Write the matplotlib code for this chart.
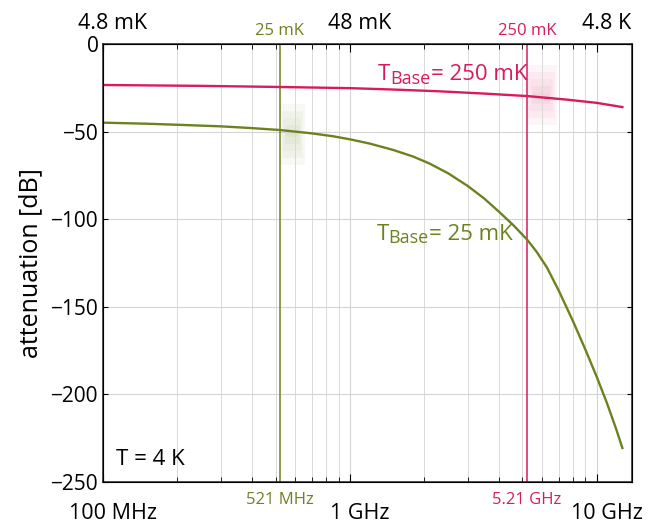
import numpy as np
import matplotlib
matplotlib.use("Agg")
import matplotlib.pyplot as plt
from matplotlib.ticker import NullFormatter
from matplotlib.transforms import ScaledTranslation

plt.rcParams['font.family'] = ['Open Sans', 'DejaVu Sans']

# data (frequency in GHz, attenuation in dB)
freq_25mK = [0.1, 0.15, 0.2, 0.3, 0.4, 0.521, 0.7, 0.85, 1.0, 1.2, 1.5, 1.8, 2.1, 2.5, 3.0,
             3.5, 4.0, 4.6, 5.21, 5.7, 6.28, 7.0, 8.0, 9.0, 10.0, 11.0, 12.0, 12.7]
att_25mK = [-44.9, -45.5, -46.1, -47.0, -48.0, -49.1, -51.0, -52.6, -54.4, -56.8, -60.5,
            -64.2, -68.2, -73.8, -81.0, -88.2, -95.5, -103.5, -111.5, -118.5, -127.5,
            -140.5, -158.0, -174.5, -190.0, -205.0, -220.0, -230.6]
freq_250mK = [0.1, 0.25, 0.5, 1.0, 1.5, 2.3, 3.5, 5.2, 7.5, 10.0, 12.7]
att_250mK = [-23.4, -23.9, -24.5, -25.2, -26.0, -27.0, -28.3, -29.7, -31.7, -33.6, -36.0]
f_25 = 0.521
f_250 = 5.21
bottom_ticks = [0.1, 1.0, 10.0]
bottom_labels = ['100 MHz', '1 GHz', '10 GHz']
top_labels = ['4.8 mK', '48 mK', '4.8 K']
yticks = [0, -50, -100, -150, -200, -250]

green = '#6c8220'
red = '#d81b5e'

fig = plt.figure(figsize=(6.48, 5.25), dpi=100)
ax = fig.add_axes([0.159, 0.0819, 0.8164, 0.8343])

ax.plot(np.array(freq_25mK) * 1e9, att_25mK, color=green, lw=1.7, zorder=3)
ax.plot(np.array(freq_250mK) * 1e9, att_250mK, color=red, lw=1.7, zorder=3)
ax.axvline(f_25 * 1e9, color=green, lw=1.1, zorder=2)
ax.axvline(f_250 * 1e9, color=red, lw=1.1, zorder=2)

# faint blurred patches next to the markers
for k in range(5):
    ax.fill_between([f_25 * 1e9 * (1.0 + 0.015 * k), f_25 * 1e9 * (1.26 - 0.02 * k)],
                    -69 + 4 * k, -34 - 4 * k, color=green, alpha=0.045, lw=0, zorder=1)
    ax.fill_between([f_250 * 1e9 * (1.0 + 0.015 * k), f_250 * 1e9 * (1.33 - 0.025 * k)],
                    -46 + 4 * k, -12 - 4 * k, color=red, alpha=0.045, lw=0, zorder=1)

ax.set_xscale('log')
ax.set_xlim(1e8, 1.39e10)
ax.set_ylim(-250, 0)
ax.set_yticks(yticks)
ax.set_yticklabels([str(v).replace('-', '\u2212') for v in yticks])
ax.set_xticks([t * 1e9 for t in bottom_ticks])
ax.set_xticklabels(bottom_labels)
ax.xaxis.set_minor_formatter(NullFormatter())
ax.tick_params(axis='x', which='major', labelsize=15.5, direction='in', length=6, pad=15,
               top=False)
ax.tick_params(axis='x', which='minor', direction='in', length=3.5, top=False)
ax.tick_params(axis='y', which='major', labelsize=15, direction='in', length=3.5, pad=3,
               right=True)
shift = ScaledTranslation(10 / 100, 0, fig.dpi_scale_trans)
for lab in ax.get_xticklabels():
    lab.set_transform(lab.get_transform() + shift)
ax.grid(True, which='major', color='#d4d4d4', lw=0.8)
ax.grid(True, which='minor', axis='x', color='#d9d9d9', lw=0.7)
ax.set_ylabel('attenuation [dB]', fontsize=18, labelpad=6)
for s in ax.spines.values():
    s.set_color('#222222')
    s.set_linewidth(1.1)

# top axis
ax2 = ax.twiny()
ax2.set_xscale('log')
ax2.set_xlim(ax.get_xlim())
ax2.set_xticks([t * 1e9 for t in bottom_ticks])
ax2.set_xticklabels(top_labels)
ax2.xaxis.set_minor_formatter(NullFormatter())
ax2.tick_params(axis='x', which='major', labelsize=15.5, direction='in', length=6, pad=7)
ax2.tick_params(axis='x', which='minor', direction='in', length=3.5)
for lab in ax2.get_xticklabels():
    lab.set_transform(lab.get_transform() + shift)

# coloured marker labels
xt = ax.get_xaxis_transform()
ax.text(f_25 * 1e9, 1.029, '25 mK', transform=xt, color=green, ha='center', va='center', fontsize=12)
ax.text(f_250 * 1e9, 1.029, '250 mK', transform=xt, color=red, ha='center', va='center', fontsize=12)
ax.text(f_25 * 1e9, -0.04, '521 MHz', transform=xt, color=green, ha='center', va='center', fontsize=12)
ax.text(f_250 * 1e9, -0.04, '5.21 GHz', transform=xt, color=red, ha='center', va='center', fontsize=12)


def base_label(x, y, value, color):
    t1 = ax.text(x, y, 'T', color=color, fontsize=16, va='baseline', ha='left')
    t2 = ax.annotate('Base', xy=(1, 0), xycoords=t1, xytext=(0, 1), textcoords='offset points',
                     color=color, fontsize=13, va='baseline', ha='left')
    ax.annotate('= ' + value, xy=(1, 0), xycoords=(t2, t1), color=color, fontsize=16,
                va='bottom', ha='left')


base_label(1.3e9, -20.5, '250 mK', red)
base_label(1.28e9, -111.6, '25 mK', green)
ax.text(1.13e8, -240.3, 'T = 4 K', color='black', fontsize=16, va='baseline')

fig.savefig('out.png', dpi=100, facecolor='white')
